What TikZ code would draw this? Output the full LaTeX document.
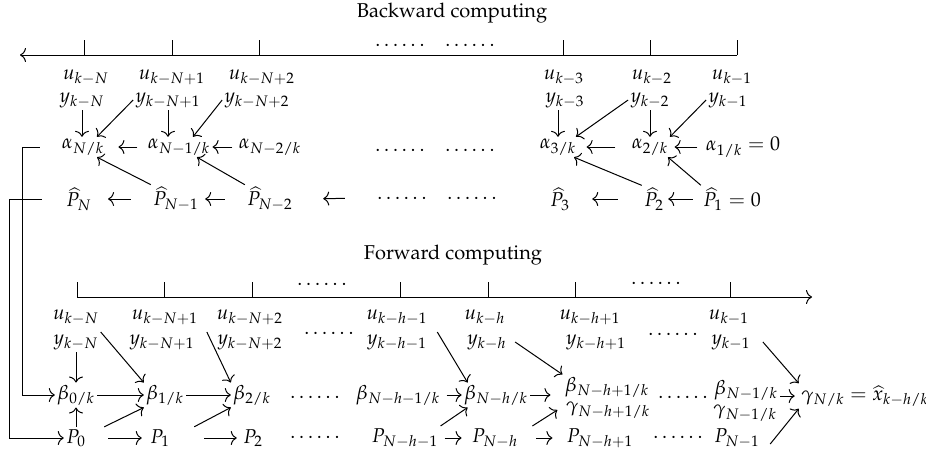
\documentclass[tikz,border=0pt]{standalone}
\usepackage[T1,TU]{fontenc}
\usepackage{amsmath}
\usepackage{amssymb}
\usepackage{mathpazo}
\usetikzlibrary{calc}
\usetikzlibrary{arrows.meta}

\begin{document}
\begin{tikzpicture}[x=.5pt,y=-.5pt]
    \tikzstyle{edge}=[draw,line width = .5pt,-,black!100]
    \tikzstyle{arr}=[draw,line width = .5pt,-{To[length=3pt,width=7pt]},black!100]
    \tikzstyle{lbl}=[inner sep=1pt]
    \tikzstyle{title}=[font={\fontencoding{T1}\fontfamily{ppl}\selectfont}]
    \useasboundingbox (0,0) rectangle (926,456);

    % backward pass: time axis
    \node[title] (bw) at (452,13) {Backward computing};
    \coordinate (bs) at (20,55);
    \coordinate (be) at (737,55);
    \draw[arr] (be) -- (bs);
    \draw[edge] (84,55) -- (84,40);
    \draw[edge] (172,55) -- (172,40);
    \draw[edge] (259,55) -- (259,40);
    \draw[edge] (563,55) -- (563,40);
    \draw[edge] (650,55) -- (650,40);
    \draw[edge] (737,55) -- (737,40);
    \node[lbl] (dA1) at (400,45) {$\ldots\ldots$};
    \node[lbl] (dA2) at (470,45) {$\ldots\ldots$};

    % measurements
    \node[lbl] (u0) at (86,77) {$u_{k-N}$};
    \node[lbl] (u1) at (172,77) {$u_{k-N+1}$};
    \node[lbl] (u2) at (262,77) {$u_{k-N+2}$};
    \node[lbl] (u3) at (564,77) {$u_{k-3}$};
    \node[lbl] (u4) at (652,77) {$u_{k-2}$};
    \node[lbl] (u5) at (732,77) {$u_{k-1}$};
    \node[lbl] (y0) at (82,100) {$y_{k-N}$};
    \node[lbl] (y1) at (168,100) {$y_{k-N+1}$};
    \node[lbl] (y2) at (257,100) {$y_{k-N+2}$};
    \node[lbl] (y3) at (565,100) {$y_{k-3}$};
    \node[lbl] (y4) at (650,100) {$y_{k-2}$};
    \node[lbl] (y5) at (728,100) {$y_{k-1}$};

    % alpha and P-hat rows
    \node[lbl] (a0) at (83,147) {$\alpha_{N/k}$};
    \node[lbl] (a1) at (179,147) {$\alpha_{N-1/k}$};
    \node[lbl] (a2) at (270,147) {$\alpha_{N-2/k}$};
    \node[lbl] (dB1) at (400,150) {$\ldots\ldots$};
    \node[lbl] (dB2) at (470,150) {$\ldots\ldots$};
    \node[lbl] (a3) at (558,147) {$\alpha_{3/k}$};
    \node[lbl] (a4) at (650,147) {$\alpha_{2/k}$};
    \node[lbl] (a5) at (743,147) {$\alpha_{1/k} = 0$};
    \node[lbl] (p0) at (79,199) {$\widehat{P}_N$};
    \node[lbl] (p1) at (176,199) {$\widehat{P}_{N-1}$};
    \node[lbl] (p2) at (270,199) {$\widehat{P}_{N-2}$};
    \node[lbl] (dC1) at (402,198) {$\ldots\ldots$};
    \node[lbl] (dC2) at (472,198) {$\ldots\ldots$};
    \node[lbl] (p3) at (560,199) {$\widehat{P}_3$};
    \node[lbl] (p4) at (654,199) {$\widehat{P}_2$};
    \node[lbl] (p5) at (732,199) {$\widehat{P}_1 = 0$};

    \draw[arr] (y0.south) -- (y0.south |- a0.north);
    \draw[arr] (y1.west) -- ([xshift=7pt]a0.north);
    \draw[arr] (y1.south) -- (y1.south |- a1.north);
    \draw[arr] (y2.west) -- ([xshift=7pt]a1.north);
    \draw[arr] (y3.south -| a3.north) -- (a3.north);
    \draw[arr] (y4.west) -- ([xshift=9pt]a3.north);
    \draw[arr] (y4.south) -- (y4.south |- a4.north);
    \draw[arr] (y5.west) -- ([xshift=10pt]a4.north);
    \draw[arr, shorten <=4pt, shorten >=6pt] (a1.west) -- (a0.east);
    \draw[arr, shorten <=2pt] (a2.west) -- (a1.east);
    \draw[arr, shorten <=7pt, shorten >=4pt] (a4.west) -- (a3.east);
    \draw[arr, shorten <=3pt, shorten >=2pt] (a5.west) -- (a4.east);
    \draw[arr, shorten <=10pt, shorten >=7pt] (p1.west) -- (p0.east);
    \draw[arr, shorten <=10pt, shorten >=2pt] (p2.west) -- (p1.east);
    \draw[arr, shorten <=15pt, shorten >=14pt] (dC1.west) -- (p2.east);
    \draw[arr, shorten <=12pt, shorten >=10pt] (p4.west) -- (p3.east);
    \draw[arr, shorten <=4pt, shorten >=1pt] (p5.west) -- (p4.east);
    \draw[arr] (p1.north west) -- ([xshift=7pt]a0.south);
    \draw[arr] (p2.north west) -- ([xshift=9pt]a1.south);
    \draw[arr] (p4.north west) -- ([xshift=8pt]a3.south);
    \draw[arr] (p5.north west) -- ([xshift=9pt]a4.south);

    % forward pass: time axis
    \node[title] (fw) at (453,255) {Forward computing};
    \coordinate (fs) at (77,297);
    \coordinate (fe) at (812,297);
    \draw[arr] (fs) -- (fe);
    \draw[edge] (77,297) -- (77,282);
    \draw[edge] (164,297) -- (164,282);
    \draw[edge] (252,297) -- (252,282);
    \draw[edge] (400,297) -- (400,282);
    \draw[edge] (488,297) -- (488,282);
    \draw[edge] (575,297) -- (575,282);
    \draw[edge] (730,297) -- (730,282);
    \node[lbl] (dF1) at (322,284) {$\ldots\ldots$};
    \node[lbl] (dF2) at (656,283) {$\ldots\ldots$};

    \node[lbl] (fu0) at (76,317) {$u_{k-N}$};
    \node[lbl] (fu1) at (165,317) {$u_{k-N+1}$};
    \node[lbl] (fu2) at (250,317) {$u_{k-N+2}$};
    \node[lbl] (fu3) at (397,317) {$u_{k-h-1}$};
    \node[lbl] (fu4) at (485,317) {$u_{k-h}$};
    \node[lbl] (fu5) at (590,317) {$u_{k-h+1}$};
    \node[lbl] (fu6) at (729,317) {$u_{k-1}$};
    \node[lbl] (fy0) at (76,342) {$y_{k-N}$};
    \node[lbl] (fy1) at (162,342) {$y_{k-N+1}$};
    \node[lbl] (fy2) at (250,342) {$y_{k-N+2}$};
    \node[lbl] (fy3) at (397,342) {$y_{k-h-1}$};
    \node[lbl] (fy4) at (487,342) {$y_{k-h}$};
    \node[lbl] (fy5) at (596,342) {$y_{k-h+1}$};
    \node[lbl] (fy6) at (731,342) {$y_{k-1}$};
    \node[lbl] (dG1) at (329,333) {$\ldots\ldots$};
    \node[lbl] (dG2) at (673,334) {$\ldots\ldots$};

    % beta, gamma and P rows
    \node[lbl] (b0) at (76,395) {$\beta_{0/k}$};
    \node[lbl] (b1) at (165,395) {$\beta_{1/k}$};
    \node[lbl] (b2) at (252,395) {$\beta_{2/k}$};
    \node[lbl] (dH1) at (315,397) {$\ldots\ldots$};
    \node[lbl] (b3) at (398,395) {$\beta_{N-h-1/k}$};
    \node[lbl] (b4) at (496,395) {$\beta_{N-h/k}$};
    \node[lbl] (b5) at (607,387) {$\beta_{N-h+1/k}$};
    \node[lbl] (g5) at (608,410) {$\gamma_{N-h+1/k}$};
    \node[lbl] (dH2) at (683,397) {$\ldots\ldots$};
    \node[lbl] (b6) at (746,390) {$\beta_{N-1/k}$};
    \node[lbl] (g6) at (745,413) {$\gamma_{N-1/k}$};
    \node[lbl] (gN) at (865,396) {$\gamma_{N/k} = \widehat{x}_{k-h/k}$};
    \node[lbl] (q0) at (76,438) {$P_0$};
    \node[lbl] (q1) at (160,438) {$P_1$};
    \node[lbl] (q2) at (253,438) {$P_2$};
    \node[lbl] (dI1) at (315,437) {$\ldots\ldots$};
    \node[lbl] (q3) at (405,438) {$P_{N-h-1}$};
    \node[lbl] (q4) at (495,438) {$P_{N-h}$};
    \node[lbl] (q5) at (600,438) {$P_{N-h+1}$};
    \node[lbl] (dI2) at (678,437) {$\ldots\ldots$};
    \node[lbl] (q6) at (737,438) {$P_{N-1}$};

    \draw[arr] (fy0.south) -- (b0.north);
    \draw[arr] (q0.north) -- (b0.south);
    \draw[arr] (fy0.north east) -- (b1.north west);
    \draw[arr] (b0.east) -- (b1.west);
    \draw[arr] ([xshift=8pt]q0.north east) -- (b1.south west);
    \draw[arr, shorten <=10pt, shorten >=3pt] (q0.east) -- (q1.west);
    \draw[arr] ([xshift=5pt]fy1.north east) -- (b2.north west);
    \draw[arr] (b1.east) -- (b2.west);
    \draw[arr] ([xshift=11pt]q1.north east) -- (b2.south west);
    \draw[arr, shorten <=16pt, shorten >=2pt] (q1.east) -- (q2.west);
    \draw[arr] ([xshift=4pt]fy3.north east) -- ([xshift=3pt]b4.north west);
    \draw[arr, shorten <=2pt] (b3.east) -- (b4.west);
    \draw[arr] (q3.north east) -- ([xshift=3pt]b4.south west);
    \draw[arr, shorten <=2pt, shorten >=4pt] (q3.east) -- (q4.west);
    \draw[arr] ([xshift=3pt]fy4.east) -- (b5.north west);
    \draw[arr, shorten >=6pt] (b4.east) -- (b4.east -| b5.west);
    \draw[arr] ([xshift=6pt]q4.north east) -- ([xshift=-3pt]g5.west);
    \draw[arr, shorten <=8pt, shorten >=6pt] (q4.east) -- (q5.west);
    \draw[arr] ([xshift=5pt]fy6.east) -- (gN.north west);
    \draw[arr, shorten >=2pt] (b6.east |- gN.west) -- (gN.west);
    \draw[arr] ([xshift=4pt,yshift=-3pt]q6.east) -- (gN.south west);

    % links from the backward results into the forward pass
    \draw[arr] ([xshift=-10pt]a0.west) -- ++(-17,0) |- (b0.west);
    \draw[arr] ([xshift=-11pt]p0.west) -- ++(-32,0) |- (q0.west);
\end{tikzpicture}
\end{document}
